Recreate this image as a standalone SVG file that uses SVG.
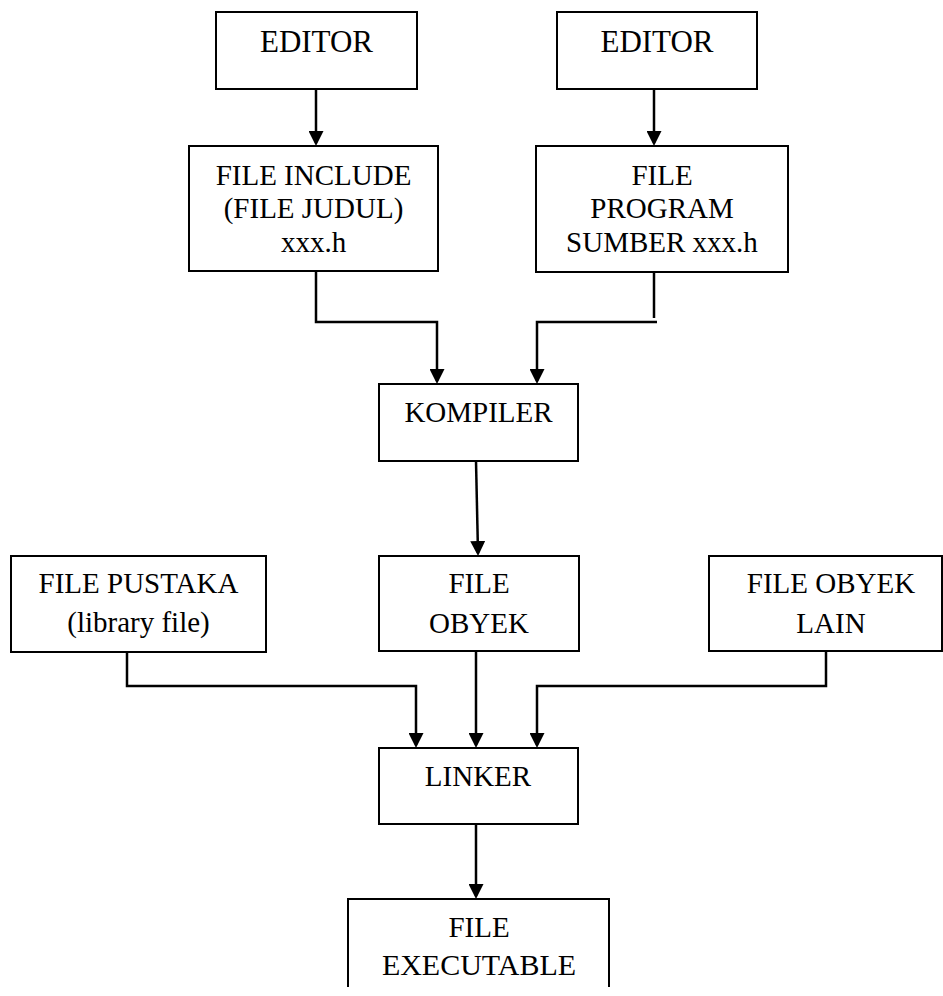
<svg xmlns="http://www.w3.org/2000/svg" width="943" height="996" viewBox="0 0 943 996">
<style>
.box{fill:#fff;stroke:#000;stroke-width:2}
.t{font-family:"Liberation Serif","Times New Roman",serif;font-size:29px;fill:#000;text-anchor:middle}
.c{fill:none;stroke:#000;stroke-width:2.5}
.a{marker-end:url(#arr)}
</style>
<defs>
<marker id="arr" viewBox="0 0 15 15" refX="12" refY="7.5" markerWidth="15" markerHeight="15" markerUnits="userSpaceOnUse" orient="auto">
<path d="M0,0 L15,7.5 L0,15 z" fill="#000"/>
</marker>
</defs>
<rect width="943" height="996" fill="#fff"/>
<g id="connectors">
<path class="c a" d="M316,89 V143"/>
<path class="c a" d="M654,89 V143"/>
<path class="c a" d="M316,271 V322 H437 V381"/>
<path class="c" d="M654,272 V318"/>
<path class="c a" d="M657,322 H537 V381"/>
<path class="c a" d="M476,461 L478,553"/>
<path class="c a" d="M127,652 V686 H416 V745"/>
<path class="c a" d="M476,651 V745"/>
<path class="c a" d="M826,651 V686 H537 V745"/>
<path class="c a" d="M476,824 V896"/>
</g>
<g id="editor1">
<rect class="box" x="216" y="12" width="201" height="77"/>
<text class="t" x="316.5" y="52" style="font-size:31px">EDITOR</text>
</g>
<g id="editor2">
<rect class="box" x="557" y="12" width="200" height="77"/>
<text class="t" x="657" y="52" style="font-size:31px">EDITOR</text>
</g>
<g id="file-include">
<rect class="box" x="189" y="146" width="249" height="125"/>
<text class="t" x="313.5" y="185">FILE INCLUDE</text>
<text class="t" x="313.5" y="218">(FILE JUDUL)</text>
<text class="t" x="313.5" y="252">xxx.h</text>
</g>
<g id="file-program">
<rect class="box" x="536" y="146" width="252" height="126"/>
<text class="t" x="662" y="185">FILE</text>
<text class="t" x="662" y="218">PROGRAM</text>
<text class="t" x="662" y="252">SUMBER xxx.h</text>
</g>
<g id="kompiler">
<rect class="box" x="379" y="384" width="199" height="77"/>
<text class="t" x="478.5" y="422">KOMPILER</text>
</g>
<g id="file-pustaka">
<rect class="box" x="11" y="556" width="255" height="96"/>
<text class="t" x="138.5" y="593">FILE PUSTAKA</text>
<text class="t" x="138.5" y="632">(library file)</text>
</g>
<g id="file-obyek">
<rect class="box" x="379" y="556" width="200" height="95"/>
<text class="t" x="479" y="593">FILE</text>
<text class="t" x="479" y="633">OBYEK</text>
</g>
<g id="file-obyek-lain">
<rect class="box" x="709" y="556" width="233" height="95"/>
<text class="t" x="831" y="593">FILE OBYEK</text>
<text class="t" x="831" y="633">LAIN</text>
</g>
<g id="linker">
<rect class="box" x="379" y="748" width="199" height="76"/>
<text class="t" x="478" y="786">LINKER</text>
</g>
<g id="file-executable">
<path class="box" d="M348,987 V899 H609 V987"/>
<text class="t" x="479" y="937">FILE</text>
<text class="t" x="479" y="975" style="font-size:30px">EXECUTABLE</text>
</g>
</svg>
